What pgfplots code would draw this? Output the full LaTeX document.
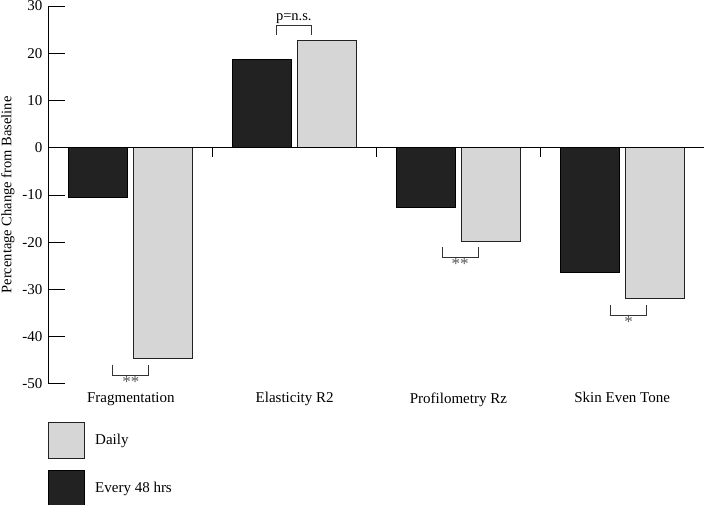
\documentclass[border=0pt]{standalone}
\usepackage{fontspec}
\setmainfont{Liberation Serif}
\usepackage{pgfplots}
\pgfplotsset{compat=1.18}
\definecolor{darkbar}{HTML}{222222}
\definecolor{lightbar}{HTML}{D6D6D6}

\pgfplotsset{
  boxlegend/.style={legend image code/.code={\draw[##1,line width=1pt] (0pt,-19pt) rectangle (36pt,17pt);}},
}

\begin{document}
\begin{tikzpicture}[x=1pt,y=1pt]
\begin{axis}[
  at={(0,0)}, anchor=south west,
  scale only axis, width=655pt, height=378pt,
  ybar=6pt, bar width=59pt,
  xmin=-0.5, xmax=3.5, ymin=-50, ymax=30,
  axis lines*=left,
  x axis line style={draw=none},
  y axis line style={line width=1pt},
  xtick={0,1,2,3},
  xticklabels={Fragmentation, Elasticity R2, Profilometry Rz, Skin Even Tone},
  xtick style={draw=none},
  xticklabel style={yshift=-5pt},
  ytick={-50,-40,...,30},
  yticklabels={-50,-40,-30,-20,-10,0,10,20,30},
  yticklabel style={xshift=-3pt},
  tick align=inside,
  major tick length=16pt,
  ytick style={line width=1pt, black},
  tick label style={font=\fontsize{15}{17}\selectfont},
  ylabel={Percentage Change from Baseline},
  ylabel style={font=\fontsize{14.5}{16}\selectfont, yshift=1pt},
  clip=false,
  reverse legend,
  legend cell align=left,
  legend style={draw=none, fill=none, at={(axis description cs:0,0)}, anchor=north west,
    xshift=-1pt, yshift=-38pt, inner sep=0pt, row sep=11pt,
    font=\fontsize{15}{17}\selectfont,
    /tikz/every odd column/.append style={column sep=8pt}},
]
% Every 48 hrs
\addplot[fill=darkbar, draw=black, line width=1pt, boxlegend] coordinates {
  (0,-10.6) (1,18.6) (2,-12.6) (3,-26.4)
};
% Daily
\addplot[fill=lightbar, draw=darkbar, line width=1pt, boxlegend] coordinates {
  (0,-44.6) (1,22.6) (2,-19.8) (3,-32.0)
};
\legend{Every 48 hrs, Daily}

% zero line and group separators
\draw[line width=1pt] (axis cs:-0.5,0) -- (axis cs:3.5,0);
\pgfplotsinvokeforeach{0.5,1.5,2.5}{
  \draw[line width=1pt] (axis cs:#1,0) -- (axis cs:#1,-1.9);
}

% significance brackets
\draw[line width=1pt, black!80] (axis cs:-0.11,-45.9) -- (axis cs:-0.11,-48.2) -- (axis cs:0.11,-48.2) -- (axis cs:0.11,-45.9);
\node[anchor=north, inner sep=0.5pt, font=\fontsize{17}{18}\selectfont, black!65] at (axis cs:0,-48.2) {**};
\draw[line width=1pt, black!80] (axis cs:0.89,23.9) -- (axis cs:0.89,25.8) -- (axis cs:1.10,25.8) -- (axis cs:1.10,23.9);
\node[anchor=south, inner sep=2pt, font=\fontsize{14.5}{16}\selectfont] at (axis cs:0.995,25.8) {p=n.s.};
\draw[line width=1pt, black!80] (axis cs:1.90,-20.9) -- (axis cs:1.90,-23.3) -- (axis cs:2.12,-23.3) -- (axis cs:2.12,-20.9);
\node[anchor=north, inner sep=0.5pt, font=\fontsize{17}{18}\selectfont, black!65] at (axis cs:2.01,-23.3) {**};
\draw[line width=1pt, black!80] (axis cs:2.93,-33.2) -- (axis cs:2.93,-35.5) -- (axis cs:3.15,-35.5) -- (axis cs:3.15,-33.2);
\node[anchor=north, inner sep=0.5pt, font=\fontsize{17}{18}\selectfont, black!65] at (axis cs:3.04,-35.5) {*};
\end{axis}
\pgfresetboundingbox
\path (-49,-121) rectangle (655,384);
\end{tikzpicture}
\end{document}
